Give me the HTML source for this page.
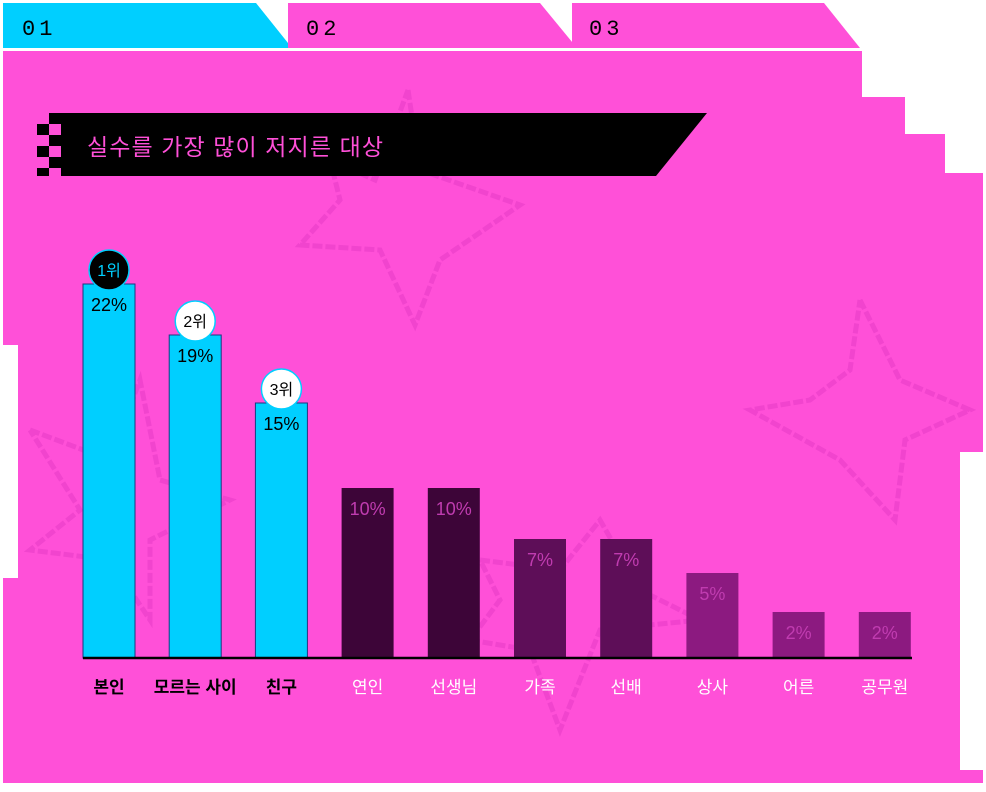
<!DOCTYPE html>
<html><head><meta charset="utf-8"><style>
body{margin:0;background:#fff;width:986px;height:787px;overflow:hidden;font-family:"Liberation Sans","Noto Sans CJK KR",sans-serif}
</style></head><body>
<svg width="986" height="787" viewBox="0 0 986 787" xmlns="http://www.w3.org/2000/svg">
<polygon points="3,3 256,3 292,48 3,48" fill="#00cfff"/>
<polygon points="288,3 540,3 577,48 288,48" fill="#ff50d8"/>
<polygon points="572,3 824,3 860,48 572,48" fill="#ff50d8"/>
<text x="22" y="35" font-family="Liberation Mono" font-size="22" letter-spacing="4">01</text>
<text x="306" y="35" font-family="Liberation Mono" font-size="22" letter-spacing="4">02</text>
<text x="589" y="35" font-family="Liberation Mono" font-size="22" letter-spacing="4">03</text>
<polygon fill="#ff50d8" points="3,51 862,51 862,97 905,97 905,134 945,134 945,173 983,173 983,452 960,452 960,770 983,770 983,783 3,783 3,578 18,578 18,345 3,345"/>
<g fill="none" stroke="#e83cc8" stroke-width="5" opacity="0.6" stroke-dasharray="10 3">
<polyline points="408,90 420,170 520,205 440,260 415,325 380,250 300,245 340,200 330,160 375,180 408,90"/>
<polyline points="860,300 900,380 970,410 905,440 895,520 840,460 750,410 810,400 850,370 860,300"/>
<polyline points="30,430 110,460 140,380 160,480 230,500 150,540 150,620 110,560 30,550 80,510 30,430"/>
<polyline points="480,560 560,570 600,520 640,590 700,620 600,630 560,730 530,650 470,640 500,600 480,560"/>
</g>
<polygon points="37,113 707,113 656,176 37,176" fill="#000"/>
<g fill="#ff50d8">
<rect x="37" y="113" width="12" height="11"/><rect x="49" y="124" width="12" height="11"/><rect x="37" y="135" width="12" height="11"/><rect x="49" y="146" width="12" height="11"/><rect x="37" y="157" width="12" height="11"/><rect x="49" y="168" width="12" height="8"/>
</g>
<text x="87" y="155" font-size="23" fill="#ff50d8" textLength="296">실수를 가장 많이 저지른 대상</text>
<g id="bars"></g>
<line x1="83" y1="658" x2="912" y2="658" stroke="#000" stroke-width="2.5"/>
</svg>
<script>
const categories=["본인","모르는 사이","친구","연인","선생님","가족","선배","상사","어른","공무원"];
const values=[22,19,15,10,10,7,7,5,2,2];
const ranks=["1위","2위","3위"];
const NS="http://www.w3.org/2000/svg";
const g=document.getElementById("bars");
const base=658,x0=109,step=86.2,bw=52;
function y(v){return base-Math.max(v*17,46);}
function fillFor(i,v){if(i<3)return "#00cfff";if(v>=10)return "#3d0538";if(v>=7)return "#5e0e58";return "#8c1a80";}
function mk(t,a){const e=document.createElementNS(NS,t);for(const k in a)e.setAttribute(k,a[k]);g.appendChild(e);return e;}
values.forEach((v,i)=>{
 const cx=x0+i*step, top=y(v);
 const r=mk("rect",{x:cx-bw/2,y:top,width:bw,height:base-top,fill:fillFor(i,v),stroke:i<3?"#1a3a80":"none","stroke-width":1});
 
 
 const t=mk("text",{x:cx,y:top+27,"text-anchor":"middle","font-size":18,fill:i<3?"#000":"#c03cb0"});
 t.textContent=v+"%";
 
 
 const l=mk("text",{x:cx,y:693,"text-anchor":"middle","font-size":17,"font-weight":i<3?"bold":"normal",fill:i<3?"#000":"#fff"});
 l.textContent=categories[i];
 
 
 if(i<3){
  const c=mk("circle",{cx:cx,cy:top-14,r:20,fill:i==0?"#000":"#fff",stroke:"#00cfff","stroke-width":1.5});
  
  
  const rt=mk("text",{x:cx,y:top-8,"text-anchor":"middle","font-size":16,fill:i==0?"#00cfff":"#000"});
  rt.textContent=ranks[i];
  
  
 }
});
</script>
</body></html>
